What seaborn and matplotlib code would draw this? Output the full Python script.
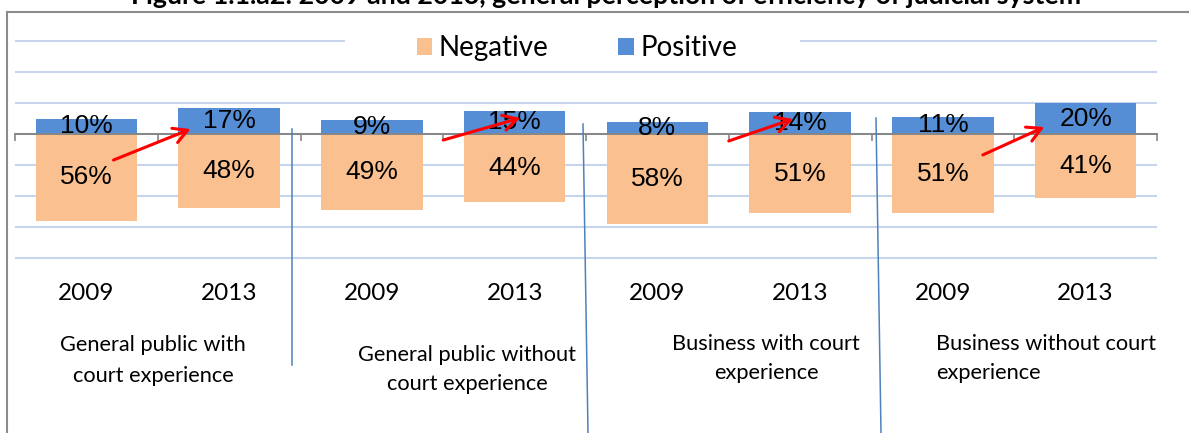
import numpy as np
import pandas as pd
import seaborn as sns
import matplotlib.pyplot as plt
from matplotlib.patches import Patch, Rectangle
from matplotlib.lines import Line2D
from matplotlib.transforms import blended_transform_factory

groups = ["General public with court experience",
          "General public without court experience",
          "Business with court experience",
          "Business without court experience"]
years = ["2009", "2013"]
negative = [56, 48, 49, 44, 58, 51, 51, 41]
positive = [10, 17, 9, 15, 8, 14, 11, 20]

df = pd.DataFrame({"group": np.repeat(groups, 2),
                   "year": years * len(groups),
                   "Negative": negative,
                   "Positive": positive})
df["bar"] = df["group"] + " " + df["year"]
df["neg_plot"] = -df["Negative"]
order = list(df["bar"])

W, H = 1189, 433
px = lambda x: x / W
py = lambda y: 1 - y / H

NEG_COLOR = "#FAC090"
POS_COLOR = "#558ED5"
GRID_COLOR = "#C6D4EC"
AXIS_COLOR = "#868686"
SEP_COLOR = "#4F81BD"
LABEL_FONT = ["Lato", "DejaVu Sans"]
VALUE_FONT = ["Liberation Sans", "DejaVu Sans"]

fig = plt.figure(figsize=(W / 100, H / 100), dpi=100)
ax = fig.add_axes([px(15), py(259.55), px(1142), 220.1 / H])

sns.barplot(data=df, x="bar", y="neg_plot", order=order, color=NEG_COLOR,
            saturation=1, width=0.71, errorbar=None, ax=ax)
sns.barplot(data=df, x="bar", y="Positive", order=order, color=POS_COLOR,
            saturation=1, width=0.71, errorbar=None, ax=ax)

ax.bar_label(ax.containers[0], labels=[f"{v}%" for v in negative],
             label_type="center", fontsize=19, family=VALUE_FONT)
ax.bar_label(ax.containers[1], labels=[f"{v}%" for v in positive],
             label_type="center", fontsize=19, family=VALUE_FONT)

ax.set_xlim(-0.5, 7.5)
ax.set_ylim(-81, 61)
ax.set_xlabel("")
ax.set_ylabel("")
for s in ["top", "right", "left"]:
    ax.spines[s].set_visible(False)
ax.spines["bottom"].set_position(("data", 0))
ax.spines["bottom"].set_color(AXIS_COLOR)
ax.spines["bottom"].set_linewidth(1.4)
ax.set_xticks(np.arange(-0.5, 7.51, 0.5))
ax.tick_params(axis="x", direction="out", length=5, width=1.2,
               color=AXIS_COLOR, labelbottom=False)
ax.set_yticks(np.arange(-80, 61, 20))
ax.tick_params(axis="y", left=False, labelleft=False)
ax.yaxis.grid(True, color=GRID_COLOR, lw=1.5)
ax.set_axisbelow(True)

# year labels under the bars
tr = blended_transform_factory(ax.transData, ax.transAxes)
for i, yr in enumerate(df["year"]):
    ax.text(i, (259.55 - 293) / 220.1, yr, transform=tr, ha="center",
            va="center", fontsize=17.5, family=LABEL_FONT, clip_on=False)

# group labels (two lines each)
group_lines = [("General public with", "court experience"),
               ("General public without", "court experience"),
               ("Business with court", "experience"),
               ("Business without court", "experience")]
group_layout = [(153, 345, 376, "center"), (467, 355, 384, "center"),
                (766, 344, 373, "center"), (936, 344, 373, "left")]
for (l1, l2), (x, y1, y2, ha) in zip(group_lines, group_layout):
    fig.text(px(x), py(y1), l1, ha=ha, va="center", fontsize=15.7, family=LABEL_FONT)
    fig.text(px(x), py(y2), l2, ha=ha, va="center", fontsize=15.7, family=LABEL_FONT)

# legend on a white strip over the top gridline
ax.add_patch(Rectangle((px(345), py(50)), px(455), 16 / H, transform=fig.transFigure,
                       facecolor="white", edgecolor="none", clip_on=False, zorder=2))
handles = [Patch(facecolor=NEG_COLOR), Patch(facecolor=POS_COLOR)]
leg = ax.legend(handles, ["Negative", "Positive"], loc="center",
                bbox_to_anchor=(px(577), py(48)), bbox_transform=fig.transFigure,
                ncol=2, frameon=False, handlelength=0.55, handleheight=0.55,
                handletextpad=0.25, columnspacing=2.5,
                prop={"family": LABEL_FONT, "size": 20})

# red arrows showing the change 2009 -> 2013
arrows = [((0.19, -16.8), (0.73, 3.2)),
          ((2.50, -3.9), (3.04, 10.3)),
          ((4.50, -4.5), (4.95, 9.7)),
          ((6.28, -13.5), (6.71, 4.5))]
for start, end in arrows:
    ax.annotate("", xy=end, xytext=start,
                arrowprops=dict(arrowstyle="->,head_length=1.0,head_width=0.55",
                                color="red", lw=2.2, shrinkA=0, shrinkB=0),
                zorder=10)

# blue separators between groups
for (x1, y1), (x2, y2) in [((292, 129), (292, 365)),
                           ((583, 124), (588, 433)),
                           ((876, 118), (881, 433))]:
    fig.add_artist(Line2D([px(x1), px(x2)], [py(y1), py(y2)], color=SEP_COLOR, lw=1.1))

# outer frame and the title, cut off at the top edge as in the source
fig.add_artist(Line2D([px(7), px(7)], [0, py(12)], color="#8C8C8C", lw=1.5))
fig.add_artist(Line2D([px(7), 1], [py(12), py(12)], color="#8C8C8C", lw=1.5))
fig.text(px(606), py(4.5), "Figure 1.1.a2: 2009 and 2013, general perception of "
         "efficiency of judicial system", ha="center", va="baseline",
         fontsize=19.3, fontweight="bold", family=LABEL_FONT)

fig.savefig("out.png", dpi=100)
